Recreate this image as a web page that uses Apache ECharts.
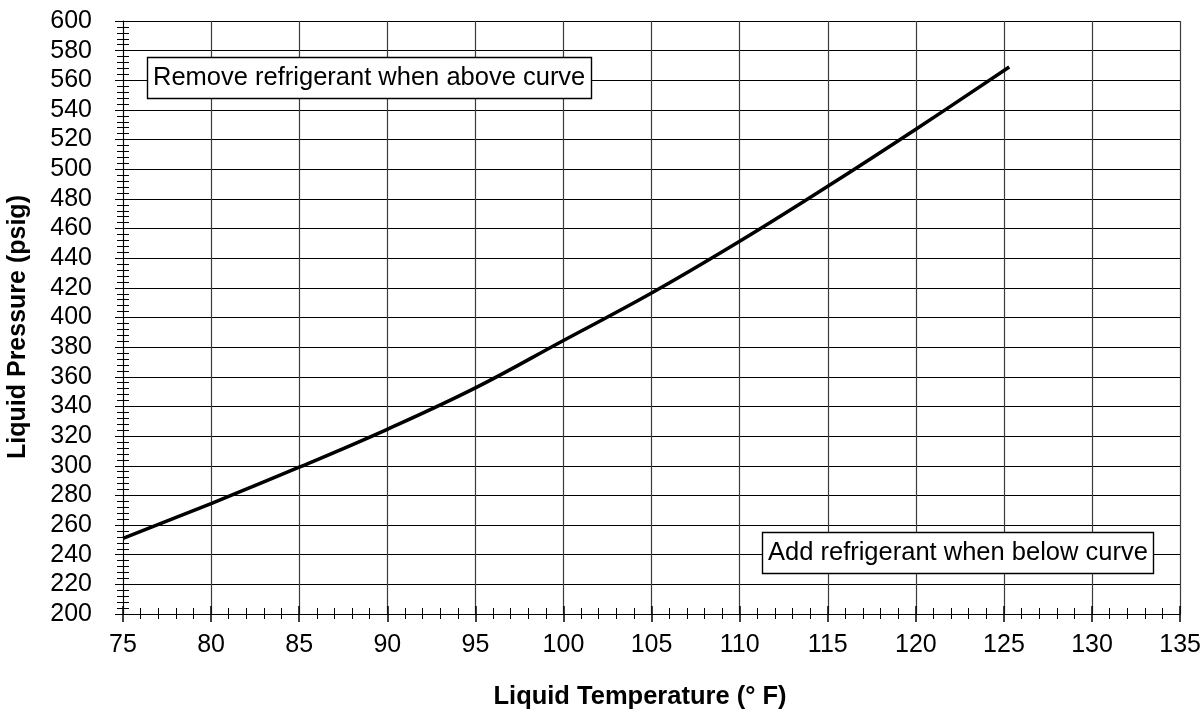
<!DOCTYPE html>
<html>
<head>
<meta charset="utf-8">
<script src="https://cdn.jsdelivr.net/npm/echarts@6/dist/echarts.min.js"></script>
<style>
html,body{margin:0;padding:0;background:#fff;}
#chart{width:1204px;height:711px;}
</style>
</head>
<body>
<div id="chart"></div>
<script>
// Data
const temperatures = [75, 80, 85, 90, 95, 100, 105, 110, 115, 120, 125.3];
const pressures = [251, 274.5, 299, 324.6, 352.5, 384.5, 416.5, 451.4, 488.5, 527, 569];
const xAxisTitle = 'Liquid Temperature (° F)';
const yAxisTitle = 'Liquid Pressure (psig)';
const noteAbove = 'Remove refrigerant when above curve';
const noteBelow = 'Add refrigerant when below curve';

const FONT = '"Liberation Sans", Arial, Helvetica, sans-serif';
const chart = echarts.init(document.getElementById('chart'), null, {renderer: 'canvas'});

const points = temperatures.map((t, i) => [t, pressures[i]]);

const xBase = {type: 'value', min: 75, max: 135, interval: 5, gridIndex: 0, position: 'bottom'};
const yBase = {type: 'value', min: 200, max: 600, interval: 20, gridIndex: 0, position: 'left'};

const option = {
  backgroundColor: '#fff',
  animation: false,
  grid: {left: 123, right: 20, top: 21, bottom: 97, containLabel: false},
  title: [
    {
      text: noteAbove, left: 147, top: 57,
      padding: [8, 6, 8, 6],
      backgroundColor: '#fff', borderColor: '#000', borderWidth: 1.4,
      textStyle: {fontFamily: FONT, fontSize: 25.5, fontWeight: 'normal', color: '#000', lineHeight: 26}
    },
    {
      text: noteBelow, left: 762, top: 532,
      padding: [8, 6, 8, 6],
      backgroundColor: '#fff', borderColor: '#000', borderWidth: 1.4,
      textStyle: {fontFamily: FONT, fontSize: 25.5, fontWeight: 'normal', color: '#000', lineHeight: 26}
    }
  ],
  xAxis: [
    Object.assign({}, xBase, {
      axisLine: {show: true, lineStyle: {color: '#000', width: 1}},
      axisTick: {show: true, inside: false, length: 8, lineStyle: {color: '#000', width: 1.5}},
      minorTick: {show: true, splitNumber: 5, length: 5, lineStyle: {color: '#000', width: 1}},
      axisLabel: {show: true, margin: 19, color: '#000', fontFamily: FONT, fontSize: 25},
      splitLine: {show: true, lineStyle: {color: '#3c3c3c', width: 1.2}},
      minorSplitLine: {show: false}
    }),
    Object.assign({}, xBase, {
      axisLine: {show: false},
      axisTick: {show: true, inside: true, length: 8, lineStyle: {color: '#000', width: 1.5}},
      minorTick: {show: true, splitNumber: 5, length: 6, lineStyle: {color: '#000', width: 1}},
      axisLabel: {show: false},
      splitLine: {show: false}
    })
  ],
  yAxis: [
    Object.assign({}, yBase, {
      axisLine: {show: true, lineStyle: {color: '#000', width: 1}},
      axisTick: {show: true, inside: false, length: 8, lineStyle: {color: '#000', width: 1}},
      minorTick: {show: true, splitNumber: 5, length: 6, lineStyle: {color: '#000', width: 1}},
      axisLabel: {show: true, margin: 31, color: '#000', fontFamily: FONT, fontSize: 25},
      splitLine: {show: true, lineStyle: {color: '#000', width: 1}},
      minorSplitLine: {show: false}
    }),
    Object.assign({}, yBase, {
      axisLine: {show: false},
      axisTick: {show: true, inside: true, length: 6, lineStyle: {color: '#000', width: 1}},
      minorTick: {show: true, splitNumber: 5, length: 6, lineStyle: {color: '#000', width: 1}},
      axisLabel: {show: false},
      splitLine: {show: false}
    })
  ],
  graphic: [
    {
      type: 'text', x: 640, y: 697,
      style: {text: xAxisTitle, fontFamily: FONT, fontSize: 25.5, fontWeight: 'bold', fill: '#000',
              align: 'center', verticalAlign: 'middle'}
    },
    {
      type: 'text', x: 18, y: 327, rotation: Math.PI / 2,
      style: {text: yAxisTitle, fontFamily: FONT, fontSize: 25, fontWeight: 'bold', fill: '#000',
              align: 'center', verticalAlign: 'middle'}
    }
  ],
  series: [
    {
      type: 'line', xAxisIndex: 0, yAxisIndex: 0,
      data: points, smooth: 0.4, showSymbol: false, symbol: 'none',
      lineStyle: {color: '#000', width: 3.5}, z: 5
    }
  ]
};
chart.setOption(option);
</script>
</body>
</html>
